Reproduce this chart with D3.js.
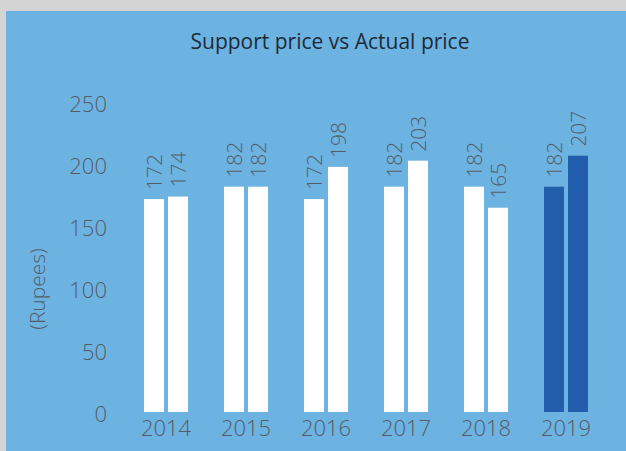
<!DOCTYPE html>
<html>
<head>
<meta charset="utf-8">
<script src="https://cdn.jsdelivr.net/npm/d3@7"></script>
<style>
  body { margin: 0; background: #d4d4d4; }
  svg text { font-family: "Open Sans", sans-serif; }
  .tick text { fill: #545d67; font-weight: 300; }
</style>
</head>
<body>
<div class="chart-wrapper"></div>
<script>
// data
const years = ['2014', '2015', '2016', '2017', '2018', '2019']
const supportPrice = [172, 182, 172, 182, 182, 182]
const actualPrice = [174, 182, 198, 203, 165, 207]
const yTicks = [0, 50, 100, 150, 200, 250]
const highlightYear = '2019'

const width = 626
const height = 451

const data = years.map((yr, i) => ({year: yr, values: [
  {key: 'support', value: supportPrice[i]},
  {key: 'actual', value: actualPrice[i]}
]}))

let svg = d3.select('.chart-wrapper')
  .append('svg')
  .attr('width', width)
  .attr('height', height)

svg.append('rect')
  .attr('x', 6)
  .attr('y', 11)
  .attr('width', width - 6)
  .attr('height', height - 11)
  .attr('fill', '#6cb3e2')

let x0 = d3.scaleBand()
  .domain(years)
  .range([126, 606])
  .paddingInner(0.45)
  .paddingOuter(0.225)

let x1 = d3.scaleBand()
  .domain(['support', 'actual'])
  .range([0, x0.bandwidth()])
  .paddingInner(1 / 6)

let y = d3.scaleLinear().domain([0, 250]).range([412, 102.5])

// title
svg.append('text')
  .attr('x', 330)
  .attr('y', 49)
  .attr('text-anchor', 'middle')
  .style('font-size', '21px')
  .style('fill', '#1d2a36')
  .text('Support price vs Actual price')

// y axis label
svg.append('text')
  .attr('transform', 'translate(45,289) rotate(-90)')
  .attr('text-anchor', 'middle')
  .style('font-size', '21px')
  .style('font-weight', 300)
  .style('fill', '#545d67')
  .text('(Rupees)')

let yaxis = svg.append('g')
  .attr('transform', 'translate(108,0)')
  .call(d3.axisLeft(y).tickValues(yTicks).tickSize(0).tickPadding(1))

yaxis.select('.domain').remove()
yaxis.selectAll('text').style('font-size', '22px').attr('dy', '0.42em')

let xaxis = svg.append('g')
  .attr('transform', 'translate(0,412)')
  .call(d3.axisBottom(x0).tickSize(0).tickPadding(8))

xaxis.select('.domain').remove()
xaxis.selectAll('text').style('font-size', '22px').attr('dy', '0.71em')

let groups = svg.selectAll('.group')
  .data(data)
  .enter().append('g')
  .attr('class', 'group')
  .attr('transform', d => 'translate(' + x0(d.year) + ',0)')

groups.selectAll('rect')
  .data(d => d.values.map(v => Object.assign({year: d.year}, v)))
  .enter().append('rect')
  .attr('x', d => x1(d.key))
  .attr('y', d => y(d.value))
  .attr('width', x1.bandwidth())
  .attr('height', d => y(0) - y(d.value))
  .attr('fill', d => d.year === highlightYear ? '#235ead' : '#ffffff')

groups.selectAll('.val')
  .data(d => d.values)
  .enter().append('text')
  .attr('class', 'val')
  .attr('transform', d => 'translate(' + (x1(d.key) + x1.bandwidth() / 2) + ',' + (y(d.value) - 9) + ') rotate(-90)')
  .attr('dy', '0.36em')
  .style('font-size', '21px')
  .style('font-weight', 300)
  .style('fill', '#545d67')
  .text(d => d.value)
</script>
</body>
</html>
